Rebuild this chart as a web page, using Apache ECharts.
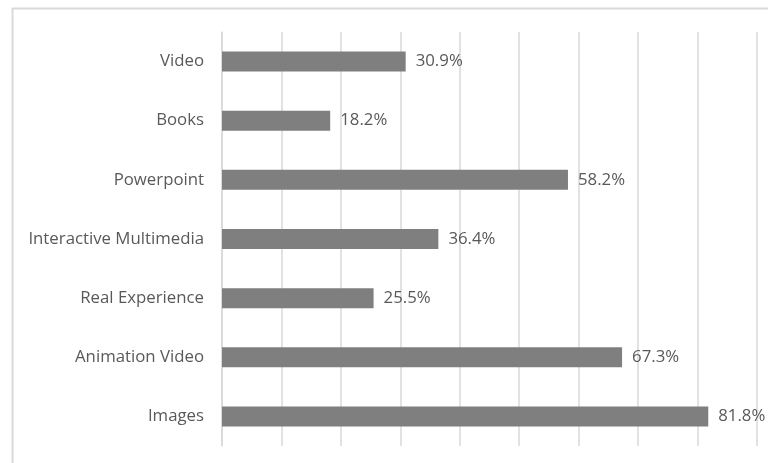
<!DOCTYPE html>
<html>
<head>
<meta charset="utf-8">
<style>
  html, body { margin: 0; padding: 0; background: #fff; }
  #chart { width: 768px; height: 463px; }
</style>
<script src="https://cdn.jsdelivr.net/npm/echarts@6/dist/echarts.min.js"></script>
</head>
<body>
<div id="chart"></div>
<script>
// Preferred learning media (share of respondents, %)
const categories = ['Images', 'Animation Video', 'Real Experience', 'Interactive Multimedia', 'Powerpoint', 'Books', 'Video'];
const shares = [81.8, 67.3, 25.5, 36.4, 58.2, 18.2, 30.9];

const chart = echarts.init(document.getElementById('chart'));
const textColor = '#595959';
const lineColor = '#d9d9d9';
const font = '"Open Sans", "Noto Sans", sans-serif';

chart.setOption({
  animation: false,
  graphic: [{
    type: 'rect',
    shape: { x: 12.5, y: 8.5, width: 800, height: 500 },
    style: { fill: 'none', stroke: lineColor, lineWidth: 2 },
    silent: true
  }],
  grid: { left: 222, right: 11, top: 32, bottom: 17, containLabel: false },
  xAxis: {
    type: 'value',
    min: 0,
    max: 90,
    interval: 10,
    axisLabel: { show: false },
    axisLine: { show: false },
    axisTick: { show: false },
    splitLine: { show: true, lineStyle: { color: lineColor, width: 1.5 } }
  },
  yAxis: {
    type: 'category',
    data: categories,
    axisTick: { show: false },
    axisLine: { show: true, lineStyle: { color: lineColor, width: 1.5 } },
    axisLabel: { color: textColor, fontSize: 16.8, fontFamily: font, margin: 18 }
  },
  series: [{
    type: 'bar',
    data: shares,
    barWidth: 20,
    itemStyle: { color: '#7f7f7f' },
    label: {
      show: true,
      position: 'right',
      distance: 10,
      color: textColor,
      fontSize: 16.8,
      fontFamily: font,
      formatter: p => p.value.toFixed(1) + '%'
    }
  }]
});
</script>
</body>
</html>
